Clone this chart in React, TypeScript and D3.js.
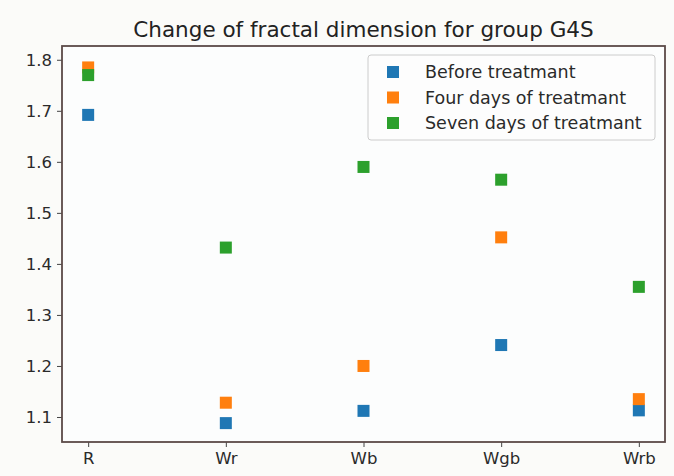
import React, { useRef, useEffect } from "react";
import * as d3 from "d3";

const categories = ["R", "Wr", "Wb", "Wgb", "Wrb"];
const seriesNames = ["Before treatmant", "Four days of treatmant", "Seven days of treatmant"];
const before = [1.692, 1.088, 1.112, 1.241, 1.113];
const fourDays = [1.785, 1.128, 1.2, 1.452, 1.135];
const sevenDays = [1.77, 1.432, 1.59, 1.565, 1.355];
const yTicks = [1.1, 1.2, 1.3, 1.4, 1.5, 1.6, 1.7, 1.8];
const colors = ["#1f77b4", "#ff7f0e", "#2ca02c"];

const App = () => {
  const svgRef = useRef<SVGSVGElement>(null);

  useEffect(() => {
    const width = 674;
    const height = 476;
    const margin = { top: 46, right: 9, bottom: 34, left: 62 };

    const svg = d3.select(svgRef.current);
    svg.selectAll("*").remove();
    svg.attr("width", width).attr("height", height);

    svg.append("rect").attr("width", width).attr("height", height).attr("fill", "#fbfbf9");

    const x = d3
      .scaleLinear()
      .domain([-0.19, categories.length - 1 + 0.19])
      .range([margin.left, width - margin.right]);
    const y = d3
      .scaleLinear()
      .domain([1.051, 1.827])
      .range([height - margin.bottom, margin.top]);

    svg
      .append("rect")
      .attr("x", margin.left)
      .attr("y", margin.top)
      .attr("width", width - margin.left - margin.right)
      .attr("height", height - margin.top - margin.bottom)
      .attr("fill", "#fcfdfd");

    // axes
    const xAxis = svg
      .append("g")
      .attr("transform", `translate(0,${height - margin.bottom})`)
      .call(
        d3
          .axisBottom(x)
          .tickValues(categories.map((_, i) => i))
          .tickFormat((d) => categories[d as number])
          .tickSize(5)
          .tickPadding(5)
      );
    const yAxis = svg
      .append("g")
      .attr("transform", `translate(${margin.left},0)`)
      .call(d3.axisLeft(y).tickValues(yTicks).tickFormat(d3.format(".1f")).tickSize(5).tickPadding(5));

    [xAxis, yAxis].forEach((g) => {
      g.select(".domain").remove();
      g.selectAll("line").attr("stroke", "#444");
      g.selectAll("text")
        .attr("font-family", "DejaVu Sans")
        .attr("font-size", 16.5)
        .attr("fill", "#2a2a2a");
    });

    // frame
    svg
      .append("rect")
      .attr("x", margin.left)
      .attr("y", margin.top)
      .attr("width", width - margin.left - margin.right)
      .attr("height", height - margin.top - margin.bottom)
      .attr("fill", "none")
      .attr("stroke", "#5b4a48")
      .attr("stroke-width", 1.8);

    // points
    const size = 12;
    [before, fourDays, sevenDays].forEach((vals, si) => {
      svg
        .append("g")
        .selectAll("rect")
        .data(vals)
        .enter()
        .append("rect")
        .attr("x", (_, i) => x(i) - size / 2)
        .attr("y", (d) => y(d) - size / 2)
        .attr("width", size)
        .attr("height", size)
        .attr("fill", colors[si]);
    });

    // title
    svg
      .append("text")
      .attr("x", (margin.left + width - margin.right) / 2)
      .attr("y", 37)
      .attr("text-anchor", "middle")
      .attr("font-family", "DejaVu Sans")
      .attr("font-size", 21.5)
      .attr("fill", "#222")
      .text("Change of fractal dimension for group G4S");

    // legend
    const legend = svg.append("g").attr("transform", "translate(368,55)");
    legend
      .append("rect")
      .attr("width", 287)
      .attr("height", 85)
      .attr("rx", 3)
      .attr("fill", "#fdfdfd")
      .attr("stroke", "#ccc");
    seriesNames.forEach((name, i) => {
      const row = legend.append("g").attr("transform", `translate(0,${17 + i * 25.5})`);
      row
        .append("rect")
        .attr("x", 19)
        .attr("y", -6)
        .attr("width", size)
        .attr("height", size)
        .attr("fill", colors[i]);
      row
        .append("text")
        .attr("x", 57)
        .attr("y", 6)
        .attr("font-family", "DejaVu Sans")
        .attr("font-size", 17.5)
        .attr("fill", "#2a2a2a")
        .text(name);
    });
  }, []);

  return <svg ref={svgRef} style={{ position: "absolute", left: 0, top: 0 }}></svg>;
};

export default App;
